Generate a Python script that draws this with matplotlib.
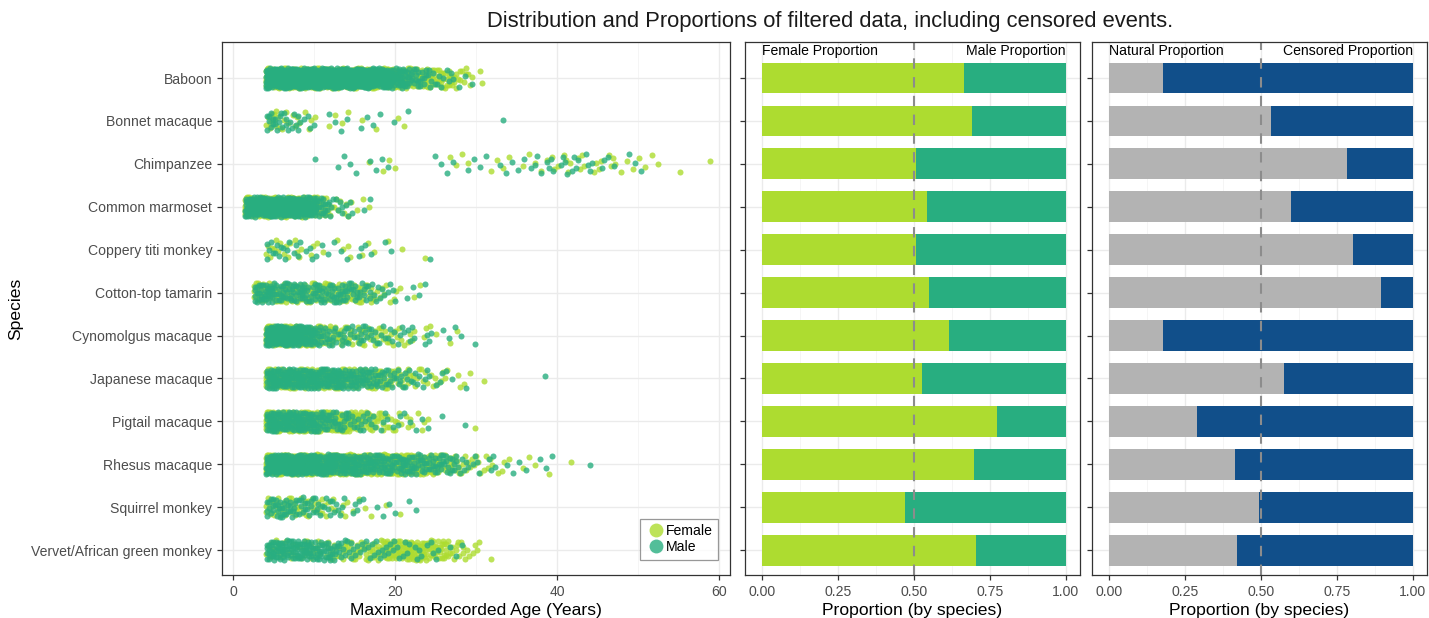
import numpy as np
import matplotlib
matplotlib.use("Agg")
import matplotlib.pyplot as plt
from matplotlib.lines import Line2D

plt.rcParams['font.family'] = ['Liberation Sans', 'DejaVu Sans']

# species, top to bottom
species = ["Baboon", "Bonnet macaque", "Chimpanzee", "Common marmoset",
           "Coppery titi monkey", "Cotton-top tamarin", "Cynomolgus macaque",
           "Japanese macaque", "Pigtail macaque", "Rhesus macaque",
           "Squirrel monkey", "Vervet/African green monkey"]

# first age of each 1-year bin row
age_start = [4, 4, 10, 1.4, 4, 2.5, 4, 4, 4, 4, 4, 4]

# number of animals per 1-year age bin (female / male)
baboon_f = [40, 40, 40, 40, 40, 40, 40, 40, 40, 40, 38, 36, 34, 32, 30, 28, 24, 20, 18, 16, 14, 12, 9, 7, 5, 3, 2]
baboon_m = [45, 45, 45, 45, 45, 45, 45, 45, 45, 45, 42, 40, 38, 35, 30, 25, 20, 15, 10, 8, 6, 4, 3, 2, 1, 1, 0]
bonnet_f = [6, 6, 4, 3, 2, 2, 1, 1, 1, 1, 1, 1, 0, 1, 0, 0, 1, 1]
bonnet_m = [8, 7, 5, 4, 3, 2, 1, 1, 1, 1, 1, 1, 1, 1, 1, 1, 0, 1, 0, 0, 0, 0, 0, 0, 0, 0, 0, 0, 0, 1]
chimp_f = [0, 0, 0, 0, 0, 0, 1, 0, 1, 1, 1, 0, 0, 0, 0, 0, 1, 1, 1, 1, 0, 1, 1, 1, 1, 1, 1, 1, 2, 2,
           2, 3, 2, 2, 2, 2, 3, 2, 1, 1, 2, 1, 1, 0, 0, 1, 0, 0, 1]
chimp_m = [1, 0, 1, 1, 1, 1, 1, 1, 1, 1, 0, 0, 0, 0, 1, 1, 1, 1, 1, 1, 1, 1, 1, 1, 1, 2, 1, 2, 2, 3,
           2, 3, 3, 2, 2, 2, 1, 1, 1, 1, 1, 0, 0, 0, 0, 0, 0, 0, 0]
marmoset_f = [35, 35, 35, 35, 35, 35, 35, 30, 25, 12, 6, 4, 3, 2, 1, 1]
marmoset_m = [30, 30, 30, 30, 30, 30, 30, 28, 22, 12, 6, 4, 3, 2, 1, 1]
titi_f = [4, 4, 3, 3, 2, 2, 1, 1, 1, 1, 2, 1, 1, 1, 0, 1, 1, 0, 0, 1, 0]
titi_m = [5, 4, 4, 3, 2, 2, 2, 1, 1, 1, 1, 2, 1, 1, 1, 1, 0, 0, 0, 0, 1]
tamarin_f = [14, 14, 13, 13, 12, 12, 12, 11, 11, 10, 10, 10, 9, 8, 6, 4, 3, 2, 1, 1, 1, 0]
tamarin_m = [14, 14, 13, 12, 12, 11, 11, 10, 10, 10, 9, 9, 8, 7, 5, 4, 3, 2, 1, 1, 1, 1]
cyno_f = [35, 35, 35, 30, 28, 22, 14, 10, 8, 8, 7, 7, 6, 6, 5, 4, 4, 3, 2, 2, 1, 1, 1, 1, 0, 0]
cyno_m = [35, 35, 35, 30, 26, 20, 12, 9, 7, 7, 6, 6, 5, 5, 4, 4, 3, 3, 2, 2, 2, 1, 1, 1, 1, 1]
japanese_f = [20, 20, 20, 20, 20, 20, 19, 19, 18, 17, 16, 15, 14, 13, 11, 9, 7, 6, 5, 4, 3, 3, 2, 2, 1, 1, 1]
japanese_m = [20, 20, 20, 20, 20, 20, 19, 19, 18, 17, 15, 14, 12, 10, 8, 7, 6, 5, 4, 3, 2, 2, 1, 1, 1, 0, 0,
              0, 0, 0, 0, 0, 0, 0, 1]
pigtail_f = [40, 40, 40, 40, 40, 38, 35, 30, 26, 22, 18, 14, 10, 8, 6, 5, 4, 3, 2, 2, 1, 0, 0, 0, 0, 1]
pigtail_m = [20, 20, 20, 20, 20, 18, 15, 12, 10, 8, 6, 5, 4, 3, 3, 2, 2, 2, 1, 1, 1, 1, 0, 0, 1, 0]
rhesus_f = [45, 45, 45, 45, 45, 45, 45, 45, 45, 45, 45, 45, 42, 40, 38, 36, 34, 30, 26, 22,
            18, 14, 10, 7, 5, 4, 3, 3, 2, 2, 1, 1, 1, 1, 0, 1, 0, 1, 0, 0, 0]
rhesus_m = [30, 30, 30, 30, 30, 28, 26, 24, 22, 20, 18, 17, 16, 15, 14, 13, 12, 12, 11, 10,
            10, 9, 8, 6, 4, 3, 2, 2, 2, 1, 1, 1, 1, 1, 1, 1, 0, 0, 0, 0, 1]
squirrel_f = [8, 8, 8, 8, 7, 6, 5, 4, 3, 3, 2, 1, 1, 1, 1, 0, 1, 0, 0]
squirrel_m = [10, 10, 9, 8, 8, 7, 6, 5, 4, 3, 2, 2, 1, 1, 1, 1, 1, 1, 1]
vervet_f = [5, 5, 5, 5, 5, 5, 6, 6, 6, 7, 8, 8, 9, 10, 12, 14, 16, 18, 18, 16, 14, 12, 9, 7, 5, 3, 2, 1]
vervet_m = [16, 16, 16, 16, 16, 15, 14, 12, 9, 7, 5, 4, 4, 4, 4, 4, 3, 3, 3, 2, 2, 2, 1, 1, 1, 0, 0, 0]

female_counts = [baboon_f, bonnet_f, chimp_f, marmoset_f, titi_f, tamarin_f,
                 cyno_f, japanese_f, pigtail_f, rhesus_f, squirrel_f, vervet_f]
male_counts = [baboon_m, bonnet_m, chimp_m, marmoset_m, titi_m, tamarin_m,
               cyno_m, japanese_m, pigtail_m, rhesus_m, squirrel_m, vervet_m]

# proportions by species
female_prop = [0.666, 0.692, 0.509, 0.544, 0.507, 0.549, 0.615, 0.526, 0.773, 0.698, 0.470, 0.705]
natural_prop = [0.178, 0.535, 0.785, 0.600, 0.805, 0.895, 0.178, 0.576, 0.292, 0.416, 0.493, 0.422]

col_f = "#ADDC30"
col_m = "#28AE80"
col_nat = "#B3B3B3"
col_cens = "#114F8A"
grid_major = "#EBEBEB"
grid_minor = "#F4F4F4"
frame = "#333333"
txt = "#4D4D4D"
fs_tick = 10.1
fs_lab = 12.6

n = len(species)
ypos = np.arange(n, 0, -1)
ylim = (0.42, 12.84)


def jitter_points(counts, start, y, seed_off):
    # spread animals inside each age bin, low-discrepancy jitter
    xs, ys = [], []
    k = seed_off
    for b, c in enumerate(counts):
        for j in range(c):
            k += 1
            xs.append(start + b + (k * 0.7548776662) % 1.0)
            ys.append(y + ((k * 0.5698402910) % 1.0 - 0.5) * 0.46)
    return xs, ys


def style_axes(ax):
    for s in ax.spines.values():
        s.set_color(frame)
        s.set_linewidth(0.9)
    ax.tick_params(axis="both", which="major", length=3.5, width=0.9, color=frame,
                   labelcolor=txt, labelsize=fs_tick)
    ax.tick_params(axis="both", which="minor", length=0)
    ax.set_axisbelow(True)
    ax.grid(True, which="major", color=grid_major, lw=1.0)
    ax.grid(True, which="minor", axis="x", color=grid_minor, lw=0.6)
    ax.set_ylim(ylim)
    ax.set_yticks(ypos)


fig = plt.figure(figsize=(14.29, 6.18), dpi=100)

# left: jittered ages
ax1 = fig.add_axes([222 / 1429, 43 / 618, 508 / 1429, 533 / 618])
style_axes(ax1)
fx, fy, mx, my = [], [], [], []
for i in range(n):
    x, y = jitter_points(female_counts[i], age_start[i], ypos[i], 0)
    fx += x
    fy += y
    x, y = jitter_points(male_counts[i], age_start[i], ypos[i], 5000)
    mx += x
    my += y
ax1.scatter(fx, fy, s=19, color=col_f, alpha=0.8, linewidths=0)
ax1.scatter(mx, my, s=19, color=col_m, alpha=0.8, linewidths=0)
ax1.set_xlim(-1.4, 61.4)
ax1.set_xticks([0, 20, 40, 60])
ax1.set_xticks([10, 30, 50], minor=True)
ax1.set_yticklabels(species)
ax1.set_xlabel("Maximum Recorded Age (Years)", fontsize=fs_lab, color="black", labelpad=3)
ax1.set_ylabel("Species", fontsize=fs_lab, color="black", labelpad=6)

handles = [Line2D([], [], marker="o", ls="", color=col_f, alpha=0.8, markersize=10, markeredgewidth=0, label="Female"),
           Line2D([], [], marker="o", ls="", color=col_m, alpha=0.8, markersize=10, markeredgewidth=0, label="Male")]
leg = ax1.legend(handles=handles, loc="lower right", fontsize=fs_tick, frameon=True, fancybox=False,
                 handletextpad=0.0, borderpad=0.4, labelspacing=0.15, handlelength=1.4,
                 bbox_to_anchor=(0.99, 0.015))
leg.get_frame().set_edgecolor("#7F7F7F")
leg.get_frame().set_linewidth(0.9)

# middle: female / male share
ax2 = fig.add_axes([745 / 1429, 43 / 618, 335 / 1429, 533 / 618])
style_axes(ax2)
fp = np.array(female_prop)
ax2.barh(ypos, fp, height=0.72, color=col_f, linewidth=0)
ax2.barh(ypos, 1 - fp, left=fp, height=0.72, color=col_m, linewidth=0)
ax2.axvline(0.5, color="#8C8C8C", lw=1.5, ls=(0, (5, 4)))
ax2.text(0.0, 12.63, "Female Proportion", fontsize=fs_tick, color="black", ha="left", va="center")
ax2.text(1.0, 12.63, "Male Proportion", fontsize=fs_tick, color="black", ha="right", va="center")

# right: natural / censored share
ax3 = fig.add_axes([1092 / 1429, 43 / 618, 335 / 1429, 533 / 618])
style_axes(ax3)
npr = np.array(natural_prop)
ax3.barh(ypos, npr, height=0.72, color=col_nat, linewidth=0)
ax3.barh(ypos, 1 - npr, left=npr, height=0.72, color=col_cens, linewidth=0)
ax3.axvline(0.5, color="#8C8C8C", lw=1.5, ls=(0, (5, 4)))
ax3.text(0.0, 12.63, "Natural Proportion", fontsize=fs_tick, color="black", ha="left", va="center")
ax3.text(1.0, 12.63, "Censored Proportion", fontsize=fs_tick, color="black", ha="right", va="center")

for ax in (ax2, ax3):
    ax.set_xlim(-0.055, 1.047)
    ax.set_xticks([0, 0.25, 0.5, 0.75, 1.0])
    ax.set_xticklabels(["0.00", "0.25", "0.50", "0.75", "1.00"])
    ax.set_xticks([0.125, 0.375, 0.625, 0.875], minor=True)
    ax.set_yticklabels([])
    ax.set_xlabel("Proportion (by species)", fontsize=fs_lab, color="black", labelpad=3)

fig.text(830 / 1429, 1 - 22 / 618, "Distribution and Proportions of filtered data, including censored events.",
         fontsize=15.85, color="#1A1A1A", ha="center", va="center")

fig.savefig("out.png", dpi=100)
